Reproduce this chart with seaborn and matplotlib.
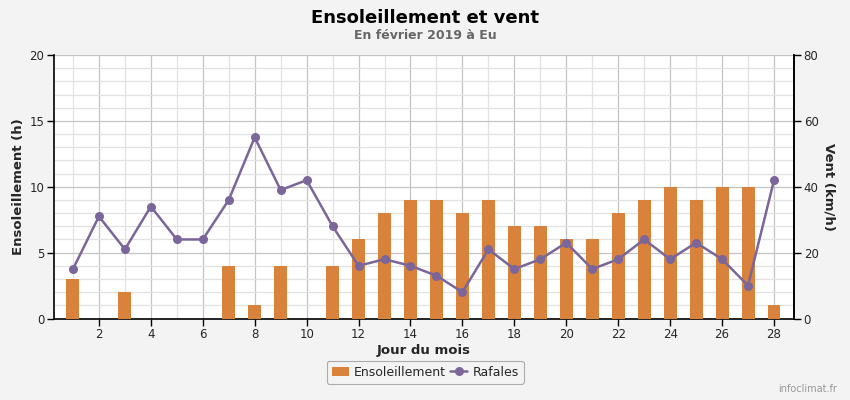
import numpy as np
import pandas as pd
import matplotlib
matplotlib.use("Agg")
import matplotlib.pyplot as plt
import seaborn as sns
from matplotlib.ticker import MultipleLocator

days = list(range(1, 29))
sunshine_h = [3, 0, 2, 0, 0, 0, 4, 1, 4, 0, 4, 6, 8, 9, 9, 8, 9, 7, 7, 6, 6, 8, 9, 10, 9, 10, 10, 1]
gusts_kmh = [15, 31, 21, 34, 24, 24, 36, 55, 39, 42, 28, 16, 18, 16, 13, 8, 21, 15, 18, 23, 15, 18, 24, 18, 23, 18, 10, 42]

title = "Ensoleillement et vent"
subtitle = "En février 2019 à Eu"
bar_label = "Ensoleillement"
line_label = "Rafales"

df = pd.DataFrame({"day": days, "sun": sunshine_h, "gust": gusts_kmh})

sns.set_theme(style="white")
plt.rcParams['font.family'] = ['DejaVu Sans']

bar_color = "#d9823b"
line_color = "#7a6699"

fig = plt.figure(figsize=(8.5, 4.0), dpi=100)
fig.patch.set_facecolor("#f3f3f3")
ax = fig.add_axes([54/850, 1-318.5/400, (794-54)/850, (318.5-55)/400])
ax.set_facecolor("white")

ax.bar(df["day"], df["sun"], width=0.5, color=bar_color, edgecolor="none", linewidth=0,
       zorder=3, label=bar_label)
ax.set_xlim(0.27, 28.77)
ax.set_ylim(0, 20)
ax.yaxis.set_major_locator(MultipleLocator(5))
ax.yaxis.set_minor_locator(MultipleLocator(1))
ax.xaxis.set_major_locator(MultipleLocator(2))
ax.xaxis.set_minor_locator(MultipleLocator(1))
ax.grid(which="major", color="#c4c4c4", linewidth=0.9, zorder=0)
ax.grid(which="minor", color="#e2e2e2", linewidth=0.9, zorder=0)
ax.set_axisbelow(True)
ax.spines["top"].set_visible(False)
for s in ["left", "bottom", "right"]:
    ax.spines[s].set_color("black")
    ax.spines[s].set_linewidth(1.2)
ax.tick_params(axis="both", which="major", direction="out", length=5, width=1, color="black",
               labelsize=8.5, pad=2, left=True, bottom=True)
ax.tick_params(axis="both", which="minor", length=0)
ax.set_xlabel("Jour du mois", fontsize=9.5, fontweight="bold", labelpad=2)
ax.set_ylabel("Ensoleillement (h)", fontsize=9.5, fontweight="bold", labelpad=3)

ax2 = ax.twinx()
sns.lineplot(data=df, x="day", y="gust", ax=ax2, color=line_color, linewidth=1.8,
             marker="o", markersize=6.5, markeredgewidth=0, zorder=4, label=line_label, legend=False)
ax2.set_ylim(0, 80)
ax2.yaxis.set_major_locator(MultipleLocator(20))
ax2.set_ylabel("Vent (km/h)", fontsize=9.5, fontweight="bold", rotation=270, labelpad=12)
ax2.set_xlabel("")
ax2.grid(False)
for s in ["top", "left", "bottom"]:
    ax2.spines[s].set_visible(False)
ax2.spines["right"].set_color("black")
ax2.spines["right"].set_linewidth(1.2)
ax2.tick_params(axis="y", direction="out", length=5, width=1, color="black", labelsize=8.5, pad=2, right=True)
ax2.set_xlim(0.27, 28.77)

fig.text(0.5, 0.955, title, ha="center", va="center", fontsize=13, fontweight="bold", color="black")
fig.text(0.5, 0.912, subtitle, ha="center", va="center", fontsize=9, fontweight="bold", color="#666666")

h1, l1 = ax.get_legend_handles_labels()
h2, l2 = ax2.get_legend_handles_labels()
leg = fig.legend(h1 + h2, l1 + l2, loc="center", bbox_to_anchor=(0.5, 0.07), ncol=2,
                 frameon=True, fontsize=9, handlelength=1.4, columnspacing=0.3, handletextpad=0.4,
                 borderpad=0.4, fancybox=True)
leg.get_frame().set_edgecolor("#999999")
leg.get_frame().set_facecolor("#f3f3f3")
leg.get_frame().set_linewidth(0.8)

fig.text(0.985, 0.015, "infoclimat.fr", ha="right", va="bottom", fontsize=7, color="#999999")

fig.savefig("out.png", dpi=100, facecolor=fig.get_facecolor())
